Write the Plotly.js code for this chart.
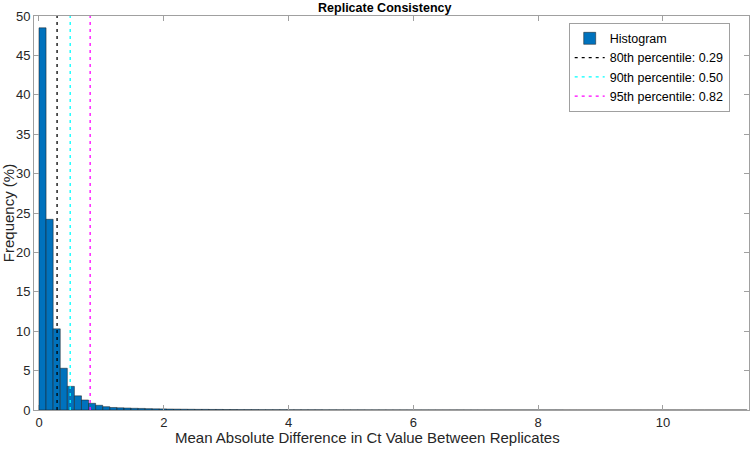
<!DOCTYPE html>
<html>
<head>
<meta charset="utf-8">
<script src="https://cdn.plot.ly/plotly-3.0.1.min.js"></script>
<style>html,body{margin:0;padding:0;background:#fff;}#chart{width:750px;height:449px;}</style>
</head>
<body>
<div id="chart"></div>
<script>
const binStart = 0;
const binWidth = 0.1135;
const freqPct = [
  48.5, 24.2, 10.3, 5.3, 3.0, 1.8, 1.27, 0.85, 0.6, 0.42,
  0.32, 0.28, 0.25, 0.22, 0.2, 0.17, 0.15, 0.14, 0.12, 0.11,
  0.1, 0.09, 0.08, 0.08, 0.07, 0.07, 0.06, 0.06, 0.05, 0.05,
  0.05, 0.04, 0.04, 0.04, 0.04, 0.03, 0.03, 0.03, 0.03, 0.03,
  0.025, 0.025, 0.02, 0.02, 0.02, 0.02, 0.018, 0.018, 0.016, 0.015,
  0.015, 0.014, 0.013, 0.012, 0.012, 0.011, 0.01, 0.01, 0.01, 0.01,
  0.009, 0.009, 0.008, 0.008, 0.008, 0.007, 0.007, 0.006, 0.006, 0.006,
  0.005, 0.005, 0.005, 0.005, 0.004, 0.004, 0.004, 0.004, 0.003, 0.003,
  0.003, 0.003, 0.003, 0.002, 0.002, 0.002, 0.002, 0.002, 0.002, 0.002,
  0.001, 0.001, 0.001, 0.001, 0.001, 0.001, 0.001, 0.001, 0.001, 0.001
];
const percentileNames = ['80th percentile', '90th percentile', '95th percentile'];
const percentileValues = [0.29, 0.50, 0.82];
const percentileColors = ['#000000', '#00FFFF', '#FF00FF'];
const xTicks = [0, 2, 4, 6, 8, 10];
const yTicks = [0, 5, 10, 15, 20, 25, 30, 35, 40, 45, 50];

const centers = freqPct.map((_, i) => binStart + (i + 0.5) * binWidth);

const FONT = 'Liberation Sans, Arial, sans-serif';

const traces = [{
  type: 'bar',
  name: 'Histogram',
  x: centers,
  y: freqPct,
  width: binWidth,
  marker: {color: '#0072BD', line: {color: '#1a1a1a', width: 0.5}},
  hoverinfo: 'x+y'
}];
percentileValues.forEach((v, i) => {
  traces.push({
    type: 'scatter',
    mode: 'lines',
    name: percentileNames[i] + ': ' + v.toFixed(2),
    x: [v, v],
    y: [0, 50],
    line: {color: percentileColors[i], width: 1.3, dash: '3px,4px'}
  });
});

const axisCommon = {
  showgrid: false,
  zeroline: false,
  showline: true,
  linecolor: '#a0a0a0',
  linewidth: 1,
  mirror: 'ticks',
  ticks: 'inside',
  ticklen: 5,
  tickcolor: '#a0a0a0',
  automargin: false,
  tickfont: {family: FONT, size: 13, color: '#262626'}
};

const layout = {
  width: 750,
  height: 449,
  margin: {l: 34, r: 1, t: 16, b: 39},
  paper_bgcolor: '#fff',
  plot_bgcolor: '#fff',
  bargap: 0,
  showlegend: true,
  title: {
    text: '<b>Replicate Consistency</b>',
    font: {family: FONT, size: 12.5, color: '#000'},
    x: 0.513, xanchor: 'center', y: 0.984, yanchor: 'middle'
  },
  xaxis: Object.assign({}, axisCommon, {
    range: [-0.08, 11.38],
    tickvals: xTicks
  }),
  yaxis: Object.assign({}, axisCommon, {
    range: [0, 50],
    tickvals: yTicks,
    title: {text: 'Frequency (%)',
      font: {family: FONT, size: 15, color: '#262626'}, standoff: 2}
  }),
  annotations: [{
    text: 'Mean Absolute Difference in Ct Value Between Replicates',
    xref: 'paper', yref: 'paper', x: 0.466, y: -0.071,
    xanchor: 'center', yanchor: 'middle', showarrow: false,
    font: {family: FONT, size: 15, color: '#262626'}
  }],
  legend: {
    x: 0.973, xanchor: 'right', y: 0.983, yanchor: 'top',
    bgcolor: '#fff', bordercolor: '#a0a0a0', borderwidth: 1,
    font: {family: FONT, size: 12.5, color: '#000'},
    tracegroupgap: 0, itemwidth: 30
  }
};

Plotly.newPlot('chart', traces, layout, {displayModeBar: false, staticPlot: true});
</script>
</body>
</html>
